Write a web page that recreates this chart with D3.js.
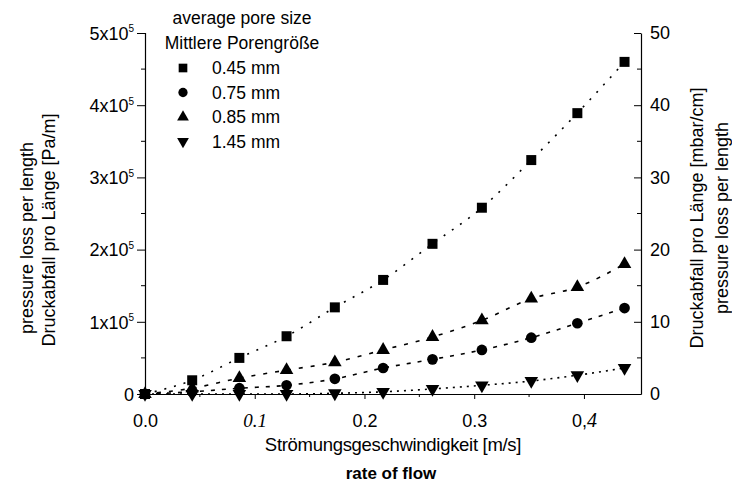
<!DOCTYPE html>
<html>
<head>
<meta charset="utf-8">
<script src="https://cdn.jsdelivr.net/npm/d3@7"></script>
<style>
  body { margin: 0; background: #fff; }
  svg { font-family: "Liberation Sans", Arial, sans-serif; }
</style>
</head>
<body>
<div id="chart"></div>
<script>
// flow rate [m/s]
const flowRate = [0, 0.043, 0.086, 0.129, 0.173, 0.217, 0.262, 0.307, 0.352, 0.394, 0.437];
// pressure loss per length, in units of 1e5 Pa/m
const pore045 = [0, 0.19, 0.5, 0.8, 1.2, 1.58, 2.08, 2.58, 3.24, 3.89, 4.6];
const pore075 = [0, 0.03, 0.08, 0.12, 0.21, 0.36, 0.48, 0.61, 0.78, 0.98, 1.19];
const pore085 = [0, 0.08, 0.22, 0.33, 0.44, 0.61, 0.79, 1.02, 1.32, 1.48, 1.8];
const pore145 = [0, 0, 0, 0, 0.01, 0.03, 0.07, 0.12, 0.18, 0.26, 0.36];

const seriesNames = ["0.45 mm", "0.75 mm", "0.85 mm", "1.45 mm"];
const xTicks = [0, 0.1, 0.2, 0.3, 0.4];
const xTickLabels = ["0.0", "0.1", "0.2", "0.3", "0,4"];
const leftTicks = [0, 1, 2, 3, 4, 5];
const rightTicks = [0, 10, 20, 30, 40, 50];

const width = 732, height = 488;
const margin = { top: 33, right: 91, bottom: 94, left: 145 };

const svg = d3.select("#chart").append("svg")
    .attr("width", width)
    .attr("height", height);

const x = d3.scaleLinear()
    .domain([0, 0.452])
    .range([margin.left, width - margin.right]);

const y = d3.scaleLinear()
    .domain([0, 5])
    .range([height - margin.bottom, margin.top]);

const yRight = d3.scaleLinear()
    .domain([0, 50])
    .range([height - margin.bottom, margin.top]);

const series = [
    { name: seriesNames[0], values: pore045, symbol: d3.symbolSquare, size: 100, dash: "2,8", rot: 0 },
    { name: seriesNames[1], values: pore075, symbol: d3.symbolCircle, size: 90, dash: "4,7", rot: 0 },
    { name: seriesNames[2], values: pore085, symbol: d3.symbolTriangle, size: 80, dash: "4,8", rot: 0 },
    { name: seriesNames[3], values: pore145, symbol: d3.symbolTriangle, size: 80, dash: "2,5", rot: 180 }
];

// minor ticks
const minorG = svg.append("g").attr("stroke", "#000").attr("stroke-width", 1);
d3.range(0.5, 5, 1).forEach(v => {
    minorG.append("line").attr("x1", margin.left - 4).attr("x2", margin.left)
        .attr("y1", y(v)).attr("y2", y(v));
    minorG.append("line").attr("x1", width - margin.right - 4).attr("x2", width - margin.right)
        .attr("y1", y(v)).attr("y2", y(v));
});
d3.range(0.05, 0.45, 0.1).forEach(v => {
    minorG.append("line").attr("x1", x(v)).attr("x2", x(v))
        .attr("y1", y(0)).attr("y2", y(0) + 3);
});

// fit lines
const line = d3.line()
    .x((d, i) => x(flowRate[i]))
    .y(d => y(d))
    .curve(d3.curveMonotoneX);

series.forEach(s => {
    svg.append("path")
        .datum(s.values)
        .attr("d", line)
        .attr("fill", "none")
        .attr("stroke", "#000")
        .attr("stroke-width", 1.6)
        .attr("stroke-dasharray", s.dash);
});

// markers
series.forEach(s => {
    svg.append("g").selectAll("path")
        .data(s.values)
        .enter()
        .append("path")
        .attr("d", d3.symbol().type(s.symbol).size(s.size))
        .attr("transform", (d, i) => `translate(${x(flowRate[i])},${y(d)}) rotate(${s.rot})`)
        .attr("fill", "#000");
});

// left axis
const leftAxis = svg.append("g")
    .attr("transform", `translate(${margin.left},0)`)
    .call(d3.axisLeft(y).tickValues(leftTicks).tickSize(8).tickPadding(4).tickFormat(""));
leftAxis.selectAll(".tick").each(function (d) {
    const t = d3.select(this).append("text")
        .attr("x", -11)
        .attr("dy", "0.35em")
        .attr("text-anchor", "end")
        .attr("fill", "#000")
        .style("font-size", "18px");
    if (d === 0) {
        t.text("0");
    } else {
        t.append("tspan").text(d + "x10");
        t.append("tspan").attr("dy", "-0.75em").style("font-size", "10px").text("5");
    }
});

// right axis
svg.append("g")
    .attr("transform", `translate(${width - margin.right},0)`)
    .call(d3.axisRight(yRight).tickValues(rightTicks).tickSizeInner(-7).tickSizeOuter(0).tickPadding(9))
    .selectAll("text")
    .style("font-size", "18px");

// bottom axis
const bottomAxis = svg.append("g")
    .attr("transform", `translate(0,${height - margin.bottom})`)
    .call(d3.axisBottom(x).tickValues(xTicks).tickSize(5).tickSizeOuter(0).tickPadding(15)
        .tickFormat((d, i) => xTickLabels[i]));
bottomAxis.selectAll("text").style("font-size", "18px");
bottomAxis.selectAll("text").filter((d, i) => i === 1)
    .style("font-family", "'Liberation Serif', serif")
    .style("font-style", "italic")
    .style("font-size", "19px");
bottomAxis.selectAll("text").filter((d, i) => i === 4).each(function () {
    const t = d3.select(this).text("");
    t.append("tspan").text("0,");
    t.append("tspan").style("font-family", "'Liberation Serif', serif")
        .style("font-style", "italic").style("font-size", "20px").text("4");
});

svg.selectAll(".domain").attr("stroke-width", 1.2);

// axis titles
svg.append("text")
    .attr("x", 393).attr("y", 451)
    .attr("text-anchor", "middle")
    .style("font-size", "18.5px")
    .style("letter-spacing", "-0.3px")
    .text("Strömungsgeschwindigkeit [m/s]");

svg.append("text")
    .attr("x", 391).attr("y", 479)
    .attr("text-anchor", "middle")
    .style("font-size", "17px")
    .style("font-weight", "bold")
    .text("rate of flow");

svg.append("text")
    .attr("transform", "translate(33,238) rotate(-90)")
    .attr("text-anchor", "middle")
    .style("font-size", "18px")
    .text("pressure loss per length");

svg.append("text")
    .attr("transform", "translate(55,230) rotate(-90)")
    .attr("text-anchor", "middle")
    .style("font-size", "18px")
    .text("Druckabfall pro Länge [Pa/m]");

svg.append("text")
    .attr("transform", "translate(703,218) rotate(-90)")
    .attr("text-anchor", "middle")
    .style("font-size", "18px")
    .text("Druckabfall pro Länge [mbar/cm]");

svg.append("text")
    .attr("transform", "translate(728,218) rotate(-90)")
    .attr("text-anchor", "middle")
    .style("font-size", "18px")
    .text("pressure loss per length");

// legend
svg.append("text")
    .attr("x", 242).attr("y", 24)
    .attr("text-anchor", "middle")
    .style("font-size", "17.5px")
    .text("average pore size");

svg.append("text")
    .attr("x", 242).attr("y", 49)
    .attr("text-anchor", "middle")
    .style("font-size", "17.5px")
    .text("Mittlere Porengröße");

const legend = svg.append("g")
    .selectAll("g")
    .data(series)
    .enter()
    .append("g")
    .attr("transform", (d, i) => `translate(183,${68 + i * 24.5})`);

legend.append("path")
    .attr("d", d => d3.symbol().type(d.symbol).size(d.size * 0.75)())
    .attr("transform", d => `rotate(${d.rot})`)
    .attr("fill", "#000");

legend.append("text")
    .attr("x", 29)
    .attr("dy", "0.35em")
    .style("font-size", "17.5px")
    .text(d => d.name);
</script>
</body>
</html>
